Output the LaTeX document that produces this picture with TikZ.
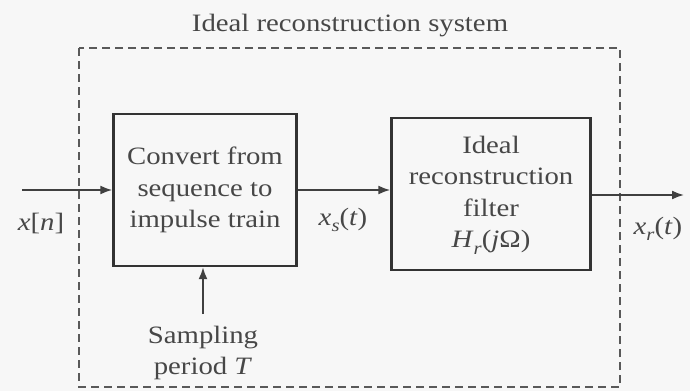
\documentclass[tikz,border=0pt]{standalone}
\usepackage{fontspec}
\setmainfont{Liberation Serif}[FakeStretch=1.15]
\usetikzlibrary{arrows.meta}
\newcommand{\subsc}[1]{\raisebox{-0.25em}{\fontsize{18}{18}\selectfont\textit{#1}}}
\begin{document}
\begin{tikzpicture}[x=1pt,y=-1pt,
  ink/.style={draw=black!80},
  block/.style={ink,line width=2.4pt,minimum width=#1,inner sep=0pt},
  sig/.style={draw=black!75,line width=1.8pt,-{Latex[length=12pt,width=9pt]}},
  txt/.style={text=black!72,font=\fontsize{25}{31.5}\selectfont,align=center,inner sep=0pt},
  lbl/.style={text=black!72,font=\fontsize{25}{28}\selectfont,inner sep=0pt}]
  \fill[white!97!black] (0,0) rectangle (690,391);
  \useasboundingbox (0,0) rectangle (690,391);
  % dashed outline of the whole system
  \draw[draw=black!65,line width=1.2pt,dash pattern=on 8pt off 5pt] (79,48) rectangle (620,387);
  \node[lbl] (title) at (350,26) {Ideal reconstruction system};
  % the two blocks
  \node[block=183pt,minimum height=152pt] (conv) at (205,190) {};
  \node[txt] (convt) at (205,190) {Convert from\\sequence to\\impulse train};
  \node[block=199pt,minimum height=152pt] (filt) at (491,194) {};
  \node[txt] (filtt) at (491,195) {Ideal\\reconstruction\\filter\\\textit{H}\subsc{r}(\textit{j}Ω)};
  % signal path
  \coordinate (in) at (22,190);
  \coordinate (out) at (684,195);
  \draw[sig] (in) -- (in -| conv.west);
  \draw[sig] (conv.east) -- (conv.east -| filt.west);
  \draw[sig] (filt.east |- out) -- (out);
  \node[lbl] (xn) at (41,223) {\textit{x}[\textit{n}]};
  \node[lbl] (xs) at (343,220) {\textit{x}\subsc{s}(\textit{t})};
  \node[lbl] (xr) at (658,229) {\textit{x}\subsc{r}(\textit{t})};
  % sampling period input
  \node[txt] (samp) at (203,353) {Sampling\\period \textit{T}};
  \coordinate (sbase) at (203,314);
  \draw[sig] (sbase) -- (sbase |- conv.south);
\end{tikzpicture}
\end{document}
